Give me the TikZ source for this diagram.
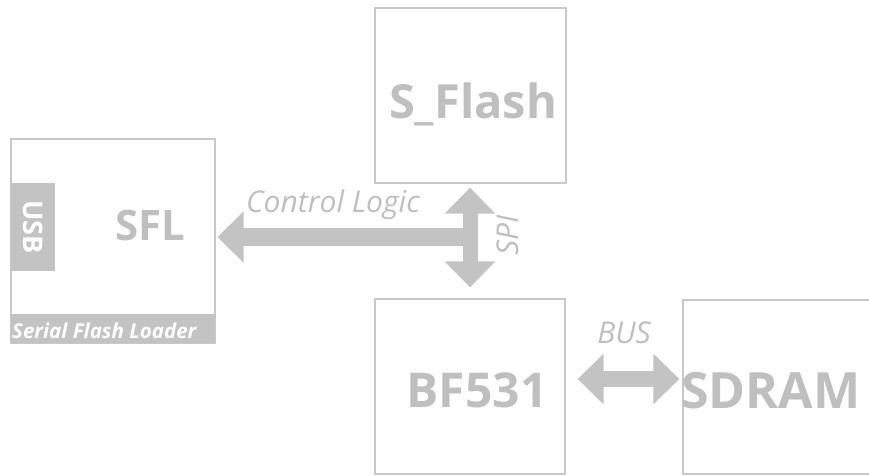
\documentclass[tikz,border=0pt]{standalone}
\usepackage{fontspec}
\setmainfont{Open Sans}
\usetikzlibrary{arrows.meta}
\definecolor{txtgray}{HTML}{BFBFBF}
\definecolor{linegray}{HTML}{C8C8C8}
\definecolor{arrgray}{HTML}{C3C3C3}
\tikzset{
  box/.style={draw=linegray, line width=1.2pt, fill=white, inner sep=0pt},
  big/.style={text=txtgray, font=\bfseries\fontsize{#1}{60}\selectfont, anchor=base, inner sep=0pt},
  lbl/.style={text=txtgray, font=\itshape\fontsize{30}{36}\selectfont, inner sep=0pt},
  tab/.style={fill=arrgray, inner sep=0pt},
  blockarrow/.style={draw=arrgray, line width=#1, {Triangle[length=26pt,width=49pt]}-{Triangle[length=26pt,width=49pt]}},
  onearrow/.style={draw=arrgray, line width=#1, -{Triangle[length=26pt,width=50pt]}}
}
\begin{document}
\begin{tikzpicture}[x=1pt,y=-1pt]
\useasboundingbox (0,0) rectangle (869,475);
\clip (0,0) rectangle (869,475);
% boxes
\node[box, minimum width=204pt, minimum height=204pt] (sfl) at (113,241) {};
\node[box, minimum width=191pt, minimum height=175pt] (sflash) at (470.5,95.5) {};
\node[box, minimum width=190pt, minimum height=175pt] (bf) at (470,386.5) {};
\node[box, minimum width=192pt, minimum height=174pt] (sdram) at (779,387) {};
% tabs
\node[tab, minimum width=44pt, minimum height=88pt] (usb) at (33,227) {};
\node[text=white, font=\bfseries\fontsize{27}{30}\selectfont, rotate=-90, inner sep=0pt] (usbt) at (33,227) {USB};
\node[tab, minimum width=204pt, minimum height=29pt] (sflbar) at (113,328.5) {};
\node[text=white, font=\bfseries\itshape\fontsize{20.5}{24}\selectfont, anchor=base west, inner sep=0pt] (sflbart) at (12,338) {Serial Flash Loader};
% titles
\node[big=47] (sflasht) at (473,118) {S\_Flash};
\node[big=42] (sflt) at (150,240) {SFL};
\node[big=48] (bft) at (477,407) {BF531};
\node[big=50] (sdramt) at (771,408) {SDRAM};
% arrows
\coordinate (junc) at (470,237);
\coordinate (sflE) at (sfl.east |- junc);
\draw[onearrow=18pt] (junc) -- ([xshift=2pt]sflE);
\draw[blockarrow=15pt, shorten <=4pt, shorten >=11pt] (sflash.south -| junc) -- (bf.north -| junc);
\coordinate (busy) at (0,379);
\draw[blockarrow=16pt, shorten <=12pt, shorten >=3pt] (bf.east |- busy) -- (sdram.west |- busy);
% labels
\node[lbl, anchor=base] (cl) at (333,212) {Control Logic};
\node[lbl, rotate=90] (spi) at (508,235) {SPI};
\node[lbl, anchor=base] (bus) at (624,343) {BUS};
\end{tikzpicture}
\end{document}
